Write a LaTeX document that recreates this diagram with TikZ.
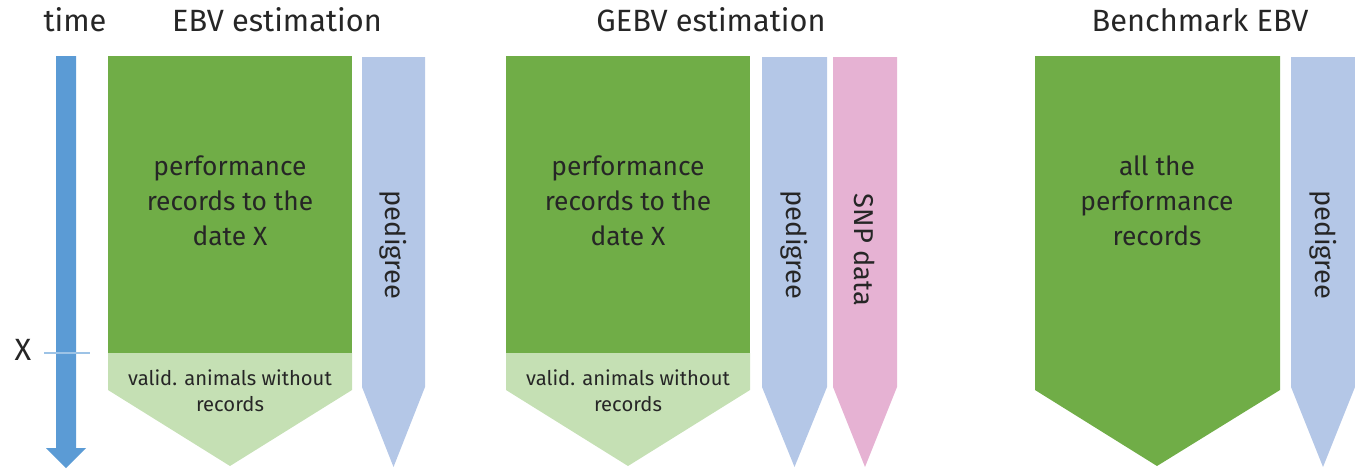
\documentclass[tikz,border=0pt]{standalone}
\usepackage{fontspec}
\setmainfont{Fira Sans}
\definecolor{timeblue}{HTML}{5B9BD5}
\definecolor{markblue}{HTML}{9DC3E6}
\definecolor{recgreen}{HTML}{70AD47}
\definecolor{valgreen}{HTML}{C5E0B4}
\definecolor{pedblue}{HTML}{B4C7E7}
\definecolor{snppink}{HTML}{E6B2D3}
\begin{document}
\begin{tikzpicture}[x=0.02cm, y=-0.02cm,
  title/.style={font=\fontsize{17.5}{21}\selectfont, text=black!85},
  boxtext/.style={font=\fontsize{15}{20}\selectfont, align=center, text=black!85},
  smalltext/.style={font=\fontsize{11.5}{14.8}\selectfont, align=center, text=black!85},
  coltext/.style={font=\fontsize{15.5}{19}\selectfont, rotate=-90, text=black!85}]

  \useasboundingbox (0,0) rectangle (1355,470);

  % ── Time axis ───────────────────────────────────────────────────────
  \node[title] (time) at (75,20) {time};
  \fill[timeblue] (56,56) -- (76,56) -- (76,448) -- (86,448) -- (66,468)
    -- (46,448) -- (56,448) -- cycle;
  \draw[markblue, thick] (44,353) -- (90,353);
  \node[title] (xmark) at (23,350) {X};

  % ── EBV estimation ──────────────────────────────────────────────────
  \node[title] (ebv) at (277,20) {EBV estimation};
  \fill[recgreen] (108,56) rectangle (352,353);
  \fill[valgreen] (108,353) -- (352,353) -- (352,390) -- (230,466)
    -- (108,390) -- cycle;
  \node[boxtext] (ebvrec) at (230,201) {performance\\records to the\\date X};
  \node[smalltext] (ebvval) at (230,391) {valid. animals without\\records};
  % pedigree column
  \fill[pedblue] (362,57) -- (425,57) -- (425,387) -- (393.5,467)
    -- (362,387) -- cycle;
  \node[coltext] (ebvped) at (393.5,245) {pedigree};

  % ── GEBV estimation ─────────────────────────────────────────────────
  \node[title] (gebv) at (711,20) {GEBV estimation};
  \fill[recgreen] (506,56) rectangle (750,353);
  \fill[valgreen] (506,353) -- (750,353) -- (750,390) -- (628,466)
    -- (506,390) -- cycle;
  \node[boxtext] (gebvrec) at (628,201) {performance\\records to the\\date X};
  \node[smalltext] (gebvval) at (628,391) {valid. animals without\\records};
  % pedigree and SNP columns
  \fill[pedblue] (762,57) -- (827,57) -- (827,387) -- (794.5,467)
    -- (762,387) -- cycle;
  \node[coltext] (gebvped) at (794.5,245) {pedigree};
  \fill[snppink] (833,57) -- (897,57) -- (897,387) -- (865,467)
    -- (833,387) -- cycle;
  \node[coltext] (snp) at (865,250) {SNP data};

  % ── Benchmark EBV ───────────────────────────────────────────────────
  \node[title] (bench) at (1200,20) {Benchmark EBV};
  \fill[recgreen] (1035,56) -- (1280,56) -- (1280,390) -- (1157,466)
    -- (1035,390) -- cycle;
  \node[boxtext] (benchrec) at (1157,201) {all the\\performance\\records};
  \fill[pedblue] (1291,57) -- (1355,57) -- (1355,387) -- (1323,467)
    -- (1291,387) -- cycle;
  \node[coltext] (benchped) at (1323,245) {pedigree};

\end{tikzpicture}
\end{document}
